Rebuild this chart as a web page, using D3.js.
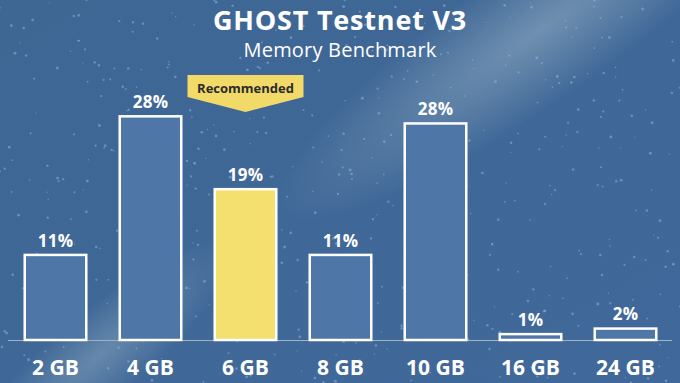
<!DOCTYPE html>
<html>
<head>
<meta charset="utf-8">
<script src="https://cdn.jsdelivr.net/npm/d3@7.9.0/dist/d3.min.js"></script>
<style>
  html, body { margin: 0; padding: 0; background: #3f6795; }
  svg { display: block; }
</style>
</head>
<body>
<svg id="chart" width="680" height="383"></svg>
<script>
// ---------- data ----------
const categories = ['2 GB', '4 GB', '6 GB', '8 GB', '10 GB', '16 GB', '24 GB'];
const shares = [10.9, 28.4, 19.2, 10.9, 27.5, 0.9, 1.6];   // percent of nodes
const valueLabels = ['11%', '28%', '19%', '11%', '28%', '1%', '2%'];
const recommended = '6 GB';
const title = 'GHOST Testnet V3';
const subtitle = 'Memory Benchmark';

const W = 680, H = 383;
const baseY = 340;
const FONT = "'Open Sans', 'Noto Sans', sans-serif";

const svg = d3.select('#chart');
const defs = svg.append('defs');

// ---------- background ----------
const bg = defs.append('linearGradient').attr('id', 'bg')
  .attr('x1', 0).attr('y1', 0).attr('x2', 1).attr('y2', 1);
bg.append('stop').attr('offset', '0%').attr('stop-color', '#3f6794');
bg.append('stop').attr('offset', '100%').attr('stop-color', '#40689a');
svg.append('rect').attr('width', W).attr('height', H).attr('fill', 'url(#bg)');

// light beam, top right to bottom left
const beam = defs.append('radialGradient').attr('id', 'beam');
beam.append('stop').attr('offset', '0%').attr('stop-color', '#b8cdd6').attr('stop-opacity', 0.4);
beam.append('stop').attr('offset', '100%').attr('stop-color', '#b8cdd6').attr('stop-opacity', 0);
svg.append('ellipse')
  .attr('cx', 0).attr('cy', 0).attr('rx', 320).attr('ry', 70)
  .attr('transform', 'translate(540,30) rotate(-35)')
  .attr('fill', 'url(#beam)');
svg.append('ellipse')
  .attr('cx', 0).attr('cy', 0).attr('rx', 170).attr('ry', 45)
  .attr('transform', 'translate(100,355) rotate(-40)')
  .attr('fill', 'url(#beam)').attr('opacity', 0.8);

// speckles (decoration, fixed seed)
let seed = 11;
const rnd = () => { seed = (seed * 16807) % 2147483647; return seed / 2147483647; };
const dots = d3.range(520).map(() => [rnd() * W, rnd() * H, 0.6 + rnd() * 0.9]);
svg.append('g').selectAll('circle').data(dots).join('circle')
  .attr('cx', d => d[0]).attr('cy', d => d[1]).attr('r', d => d[2])
  .attr('fill', '#9cc2ec').attr('opacity', 0.45);

// ---------- scales ----------
const x = d3.scaleBand().domain(categories).range([8, 673])
  .paddingInner(0.326).paddingOuter(0.163);
const y = d3.scaleLinear().domain([0, 30]).range([baseY, baseY - 30 * 7.92]);

// baseline
svg.append('line')
  .attr('x1', 8).attr('x2', 672).attr('y1', baseY + 0.5).attr('y2', baseY + 0.5)
  .attr('stroke', '#9fb3c8').attr('stroke-width', 1);

// ---------- bars ----------
const data = categories.map((c, i) => ({ cat: c, v: shares[i], label: valueLabels[i] }));
svg.append('g').selectAll('rect').data(data).join('rect')
  .attr('x', d => x(d.cat) + 1.25)
  .attr('y', d => y(d.v) + 1.25)
  .attr('width', x.bandwidth() - 2.5)
  .attr('height', d => Math.max(0, baseY - y(d.v) - 1.25))
  .attr('fill', d => d.cat === recommended ? '#f3e06e' : '#4e77a7')
  .attr('stroke', '#ffffff').attr('stroke-width', 2.5);

// value labels
svg.append('g').selectAll('text').data(data).join('text')
  .attr('x', d => x(d.cat) + x.bandwidth() / 2)
  .attr('y', d => y(d.v) - 7)
  .attr('text-anchor', 'middle')
  .attr('fill', '#ffffff')
  .attr('font-family', FONT).attr('font-weight', 700).attr('font-size', 17)
  .attr('letter-spacing', 0.3)
  .text(d => d.label);

// category axis labels
const xAxis = svg.append('g')
  .attr('transform', `translate(0,${baseY})`)
  .call(d3.axisBottom(x).tickSize(0).tickPadding(0));
xAxis.select('.domain').remove();
xAxis.selectAll('text')
  .attr('dy', null).attr('y', 35)
  .attr('fill', '#ffffff')
  .attr('font-family', FONT).attr('font-weight', 700).attr('font-size', 21);

// ---------- recommended banner ----------
const cx = x(recommended) + x.bandwidth() / 2;
const bw = 116, bTop = 75, bSide = 97, bTip = 112;
svg.append('path')
  .attr('d', d3.line()([
    [cx - bw / 2, bTop], [cx + bw / 2, bTop], [cx + bw / 2, bSide],
    [cx, bTip], [cx - bw / 2, bSide]
  ]) + 'Z')
  .attr('fill', '#f1da68');
svg.append('text')
  .attr('x', cx).attr('y', 93)
  .attr('text-anchor', 'middle')
  .attr('fill', '#2b2b2b')
  .attr('font-family', FONT).attr('font-weight', 700).attr('font-size', 13)
  .text('Recommended');

// ---------- titles ----------
svg.append('text')
  .attr('x', W / 2).attr('y', 30)
  .attr('text-anchor', 'middle').attr('fill', '#ffffff')
  .attr('font-family', FONT).attr('font-weight', 700).attr('font-size', 27)
  .attr('letter-spacing', 0.8)
  .text(title);
svg.append('text')
  .attr('x', W / 2).attr('y', 57)
  .attr('text-anchor', 'middle').attr('fill', '#ffffff')
  .attr('font-family', FONT).attr('font-weight', 400).attr('font-size', 20)
  .attr('letter-spacing', 0.2)
  .text(subtitle);
</script>
</body>
</html>
